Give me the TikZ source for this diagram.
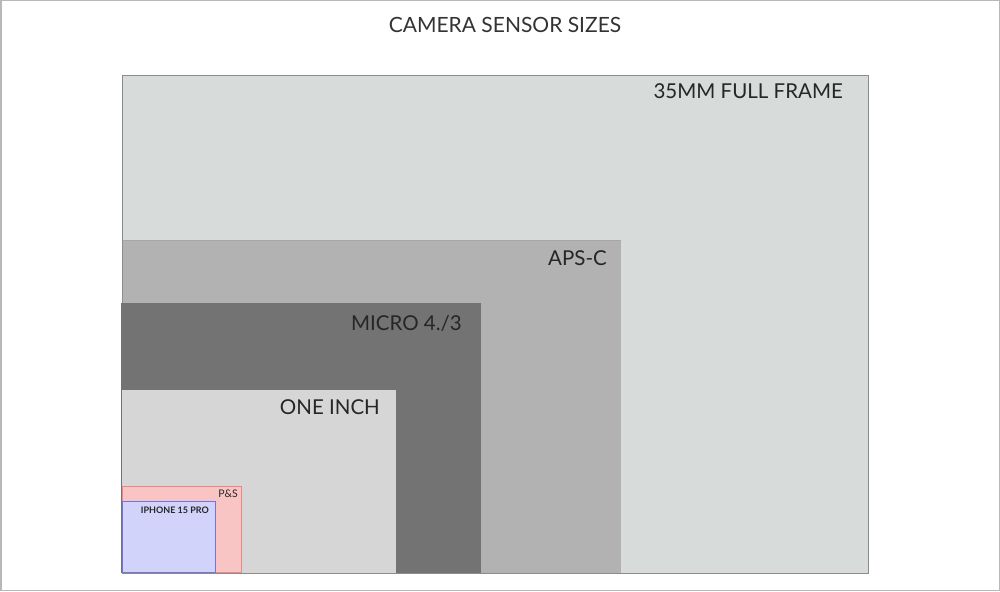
\documentclass[tikz,border=0pt]{standalone}
\usepackage{fontspec}
\setmainfont{Lato}
\begin{document}
\begin{tikzpicture}[x=1pt,y=-1pt,
  lbl/.style={anchor=base east, inner sep=0pt, font=\fontsize{20.5}{24}\selectfont, text=black!85},
  sensor/.style={line width=1pt}]
\definecolor{ffc}{HTML}{D7DBDA}
\definecolor{apsc}{HTML}{B2B2B2}
\definecolor{mft}{HTML}{737373}
\definecolor{onec}{HTML}{D6D6D6}
\definecolor{psc}{HTML}{F9C4C4}
\definecolor{psb}{HTML}{F08585}
\definecolor{iphc}{HTML}{D2D3FB}
\definecolor{iphb}{HTML}{7474DD}
\useasboundingbox (0,0) rectangle (1000,591);
\draw[black!28, line width=1.5pt] (0.75,0.75) rectangle (999.25,590.25);
\node[anchor=base, inner sep=0pt, font=\fontsize{21}{24}\selectfont, text=black!80] (title) at (505,33) {CAMERA SENSOR SIZES};
\draw[sensor, fill=ffc, draw=black!45] (122.5,75.5) rectangle (868,573);
\fill[apsc] (122.5,240) rectangle (621,573);
\draw[black!35, line width=0.6pt] (122.5,240) -- (621,240);
\fill[mft] (121,303) rectangle (481,573);
\fill[onec] (122,390) rectangle (396,573);
\draw[psb, fill=psc, line width=0.8pt] (122.5,486.5) rectangle (241,572.5);
\draw[iphb, fill=iphc, line width=0.8pt] (122.5,501.5) rectangle (215.5,572.5);
\node[lbl] (lff) at (843,99) {35MM FULL FRAME};
\node[lbl] (laps) at (607,265) {APS-C};
\node[lbl] (lmft) at (462,330) {MICRO 4./3};
\node[lbl] (lone) at (380,414) {ONE INCH};
\node[lbl, font=\fontsize{10.5}{12}\selectfont] (lps) at (238,497.5) {P\&S};
\node[lbl, font=\bfseries\fontsize{9}{10}\selectfont] (liph) at (209,513.5) {IPHONE 15 PRO};
\end{tikzpicture}
\end{document}
